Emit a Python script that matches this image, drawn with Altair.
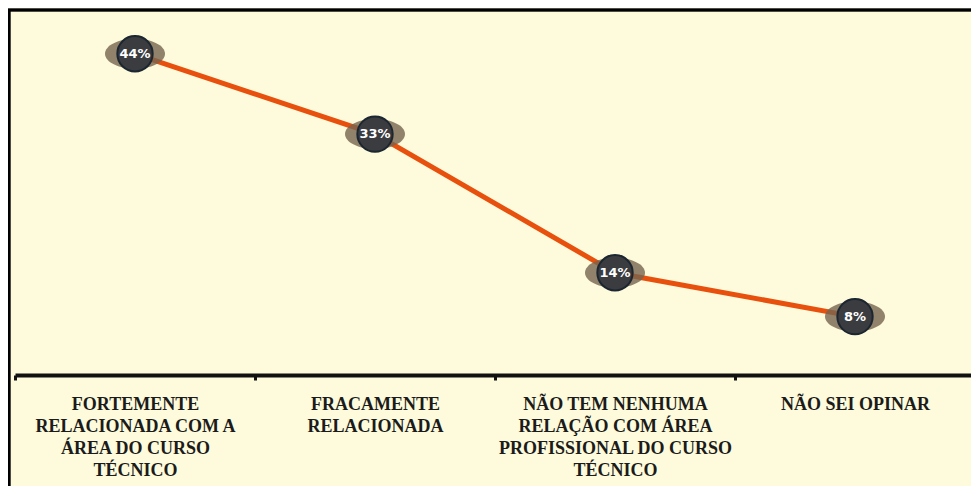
import altair as alt
import pandas as pd

categories = [
    "Fortemente\nrelacionada com a\nárea do curso\ntécnico",
    "Fracamente\nrelacionada",
    "Não tem nenhuma\nrelação com área\nprofissional do curso\ntécnico",
    "Não sei opinar",
]
values = [44, 33, 14, 8]
labels = ["44%", "33%", "14%", "8%"]

df = pd.DataFrame({"cat": categories, "val": values, "lab": labels})

x = alt.X(
    "cat:N",
    sort=categories,
    scale=alt.Scale(paddingInner=0, paddingOuter=0),
    axis=alt.Axis(
        title=None,
        labelExpr="split(upper(datum.label), '\\n')",
        labelAngle=0,
        labelAlign="center",
        labelBaseline="top",
        labelFont="Liberation Serif",
        labelFontWeight="bold",
        labelFontSize=18,
        labelLineHeight=22,
        labelColor="#1b1b1b",
        labelPadding=15,
        labelLimit=400,
        domainColor="#111111",
        domainWidth=4,
        tickColor="#111111",
        tickWidth=3,
        tickSize=5,
        tickBand="extent",
        grid=False,
    ),
)
y = alt.Y("val:Q", scale=alt.Scale(domain=[0, 50]), axis=None)

base = alt.Chart(df)

frame_top = base.mark_rule(color="#000000", strokeWidth=2.5).encode(
    x=alt.value(-7), x2=alt.value(1000), y=alt.value(0)
)
frame_left = base.mark_rule(color="#000000", strokeWidth=2.5).encode(
    x=alt.value(-6), y=alt.value(0), y2=alt.value(600)
)

line = base.mark_line(color="#E8500E", strokeWidth=5).encode(x=x, y=y)

ellipse = base.mark_point(
    shape="M-1,0 A1,0.5 0 1,0 1,0 A1,0.5 0 1,0 -1,0 Z",
    filled=True,
    color="#75644f",
    opacity=0.8,
    size=3600,
).encode(x=x, y=y)

dots = base.mark_circle(
    size=1250, color="#3a3c40", opacity=1, stroke="#1c2630", strokeWidth=2
).encode(x=x, y=y)

text = base.mark_text(
    color="white", font="DejaVu Sans", fontWeight="bold", fontSize=13
).encode(x=x, y=y, text="lab:N")

chart = (
    alt.layer(frame_top, frame_left, line, ellipse, dots, text)
    .properties(
        width=960,
        height=365,
        padding={"left": 7, "top": 2, "right": -4, "bottom": 111},
        autosize=alt.AutoSizeParams(type="none"),
        background="#FEFBDC",
    )
    .configure_view(stroke=None)
)

chart.save("out.html", embed_options={"renderer": "svg", "actions": False})
